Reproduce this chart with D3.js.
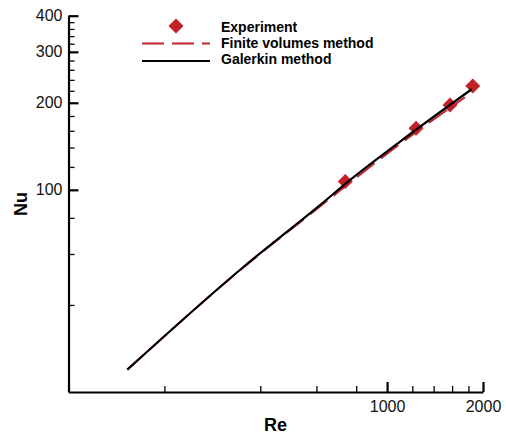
<!DOCTYPE html>
<html>
<head>
<meta charset="utf-8">
<script src="https://cdn.jsdelivr.net/npm/d3@7"></script>
<style>
  body { margin: 0; background: #fff; }
  svg { font-family: "Liberation Sans", Arial, sans-serif; }
</style>
</head>
<body>
<div id="chart"></div>
<script>
// experimental points
const expRe = [739, 1233, 1576, 1857];
const expNu = [106.8, 163.4, 196.6, 228.7];

// finite volumes method (dashed red)
const fvRe = [153, 354, 617, 1099, 1756];
const fvNu = [23.9, 53.9, 87.8, 144.3, 208.9];

// galerkin method (solid black)
const galRe = [153, 354, 617, 766, 1099, 1843];
const galNu = [23.9, 54.1, 88.7, 108.3, 146.9, 222.7];

// ticks
const xMajor = [1000, 2000];
const xMinor = [200, 400, 600, 800, 1200, 1400, 1600, 1800];
const yMajor = [100, 200, 300, 400];
const yMinor = [40, 60, 80, 120, 140, 160, 180, 220, 240, 260, 280, 320, 340, 360, 380];

const legendLabels = ["Experiment", "Finite volumes method", "Galerkin method"];

const red = "#c4222b";

const W = 506, H = 436;
const svg = d3.select("#chart").append("svg")
    .attr("width", W)
    .attr("height", H);

const x = d3.scaleLog().domain([100, 2000]).range([68.5, 483]);
const y = d3.scaleLog().domain([20, 400]).range([392, 15.7]);

// minor ticks first
svg.append("g")
    .attr("transform", `translate(0,${y.range()[0]})`)
    .call(d3.axisBottom(x).tickValues(xMinor).tickSize(-6).tickFormat(""))
    .call(g => g.select(".domain").remove())
    .selectAll("line").attr("stroke-width", 1.3);

svg.append("g")
    .attr("transform", `translate(${x.range()[0]},0)`)
    .call(d3.axisLeft(y).tickValues(yMinor).tickSize(-6).tickFormat(""))
    .call(g => g.select(".domain").remove())
    .selectAll("line").attr("stroke-width", 1.3);

// major ticks + labels
const xAxis = svg.append("g")
    .attr("transform", `translate(0,${y.range()[0]})`)
    .call(d3.axisBottom(x).tickValues(xMajor).tickSizeInner(-10).tickSizeOuter(0)
        .tickPadding(8).tickFormat(d3.format("d")));

const yAxis = svg.append("g")
    .attr("transform", `translate(${x.range()[0]},0)`)
    .call(d3.axisLeft(y).tickValues(yMajor).tickSizeInner(-10).tickSizeOuter(0)
        .tickPadding(6).tickFormat(d3.format("d")));

[xAxis, yAxis].forEach(a => {
    a.select(".domain").attr("stroke-width", 2.2);
    a.selectAll(".tick line").attr("stroke-width", 2.2);
    a.selectAll(".tick text")
        .style("font-size", "16px")
        .attr("fill", "#111");
});
xAxis.selectAll(".tick text").attr("y", 9);

// axis titles
svg.append("text")
    .attr("x", 275.5)
    .attr("y", 431)
    .attr("text-anchor", "middle")
    .style("font-size", "18px")
    .style("font-weight", "bold")
    .text("Re");

svg.append("text")
    .attr("transform", "translate(27,204) rotate(-90)")
    .attr("text-anchor", "middle")
    .style("font-size", "18px")
    .style("font-weight", "bold")
    .text("Nu");

// lines
const line = d3.line()
    .x(d => x(d[0]))
    .y(d => y(d[1]))
    .curve(d3.curveMonotoneX);

svg.append("path")
    .datum(fvRe.map((r, i) => [r, fvNu[i]]))
    .attr("d", line)
    .attr("fill", "none")
    .attr("stroke", red)
    .attr("stroke-width", 2)
    .attr("stroke-dasharray", "22,8");

// markers
const diamond = d3.symbol().type(d3.symbolSquare).size(112);
svg.selectAll(".exp")
    .data(expRe.map((r, i) => [r, expNu[i]]))
    .enter()
    .append("path")
    .attr("class", "exp")
    .attr("d", diamond)
    .attr("transform", d => `translate(${x(d[0])},${y(d[1])}) rotate(45)`)
    .attr("fill", red);

svg.append("path")
    .datum(galRe.map((r, i) => [r, galNu[i]]))
    .attr("d", line)
    .attr("fill", "none")
    .attr("stroke", "#000")
    .attr("stroke-width", 2.2);

// legend
const legend = svg.append("g");
legend.append("path")
    .attr("d", diamond)
    .attr("transform", "translate(176,26) rotate(45)")
    .attr("fill", red);
legend.append("line")
    .attr("x1", 142).attr("x2", 210)
    .attr("y1", 43.5).attr("y2", 43.5)
    .attr("stroke", red)
    .attr("stroke-width", 2)
    .attr("stroke-dasharray", "22,8");
legend.append("line")
    .attr("x1", 142).attr("x2", 210)
    .attr("y1", 61).attr("y2", 61)
    .attr("stroke", "#000")
    .attr("stroke-width", 2.2);

legend.selectAll("text")
    .data(legendLabels)
    .enter()
    .append("text")
    .attr("x", 221)
    .attr("y", (d, i) => [31.7, 48, 64.3][i])
    .style("font-size", "14px")
    .style("font-weight", "bold")
    .text(d => d);
</script>
</body>
</html>
